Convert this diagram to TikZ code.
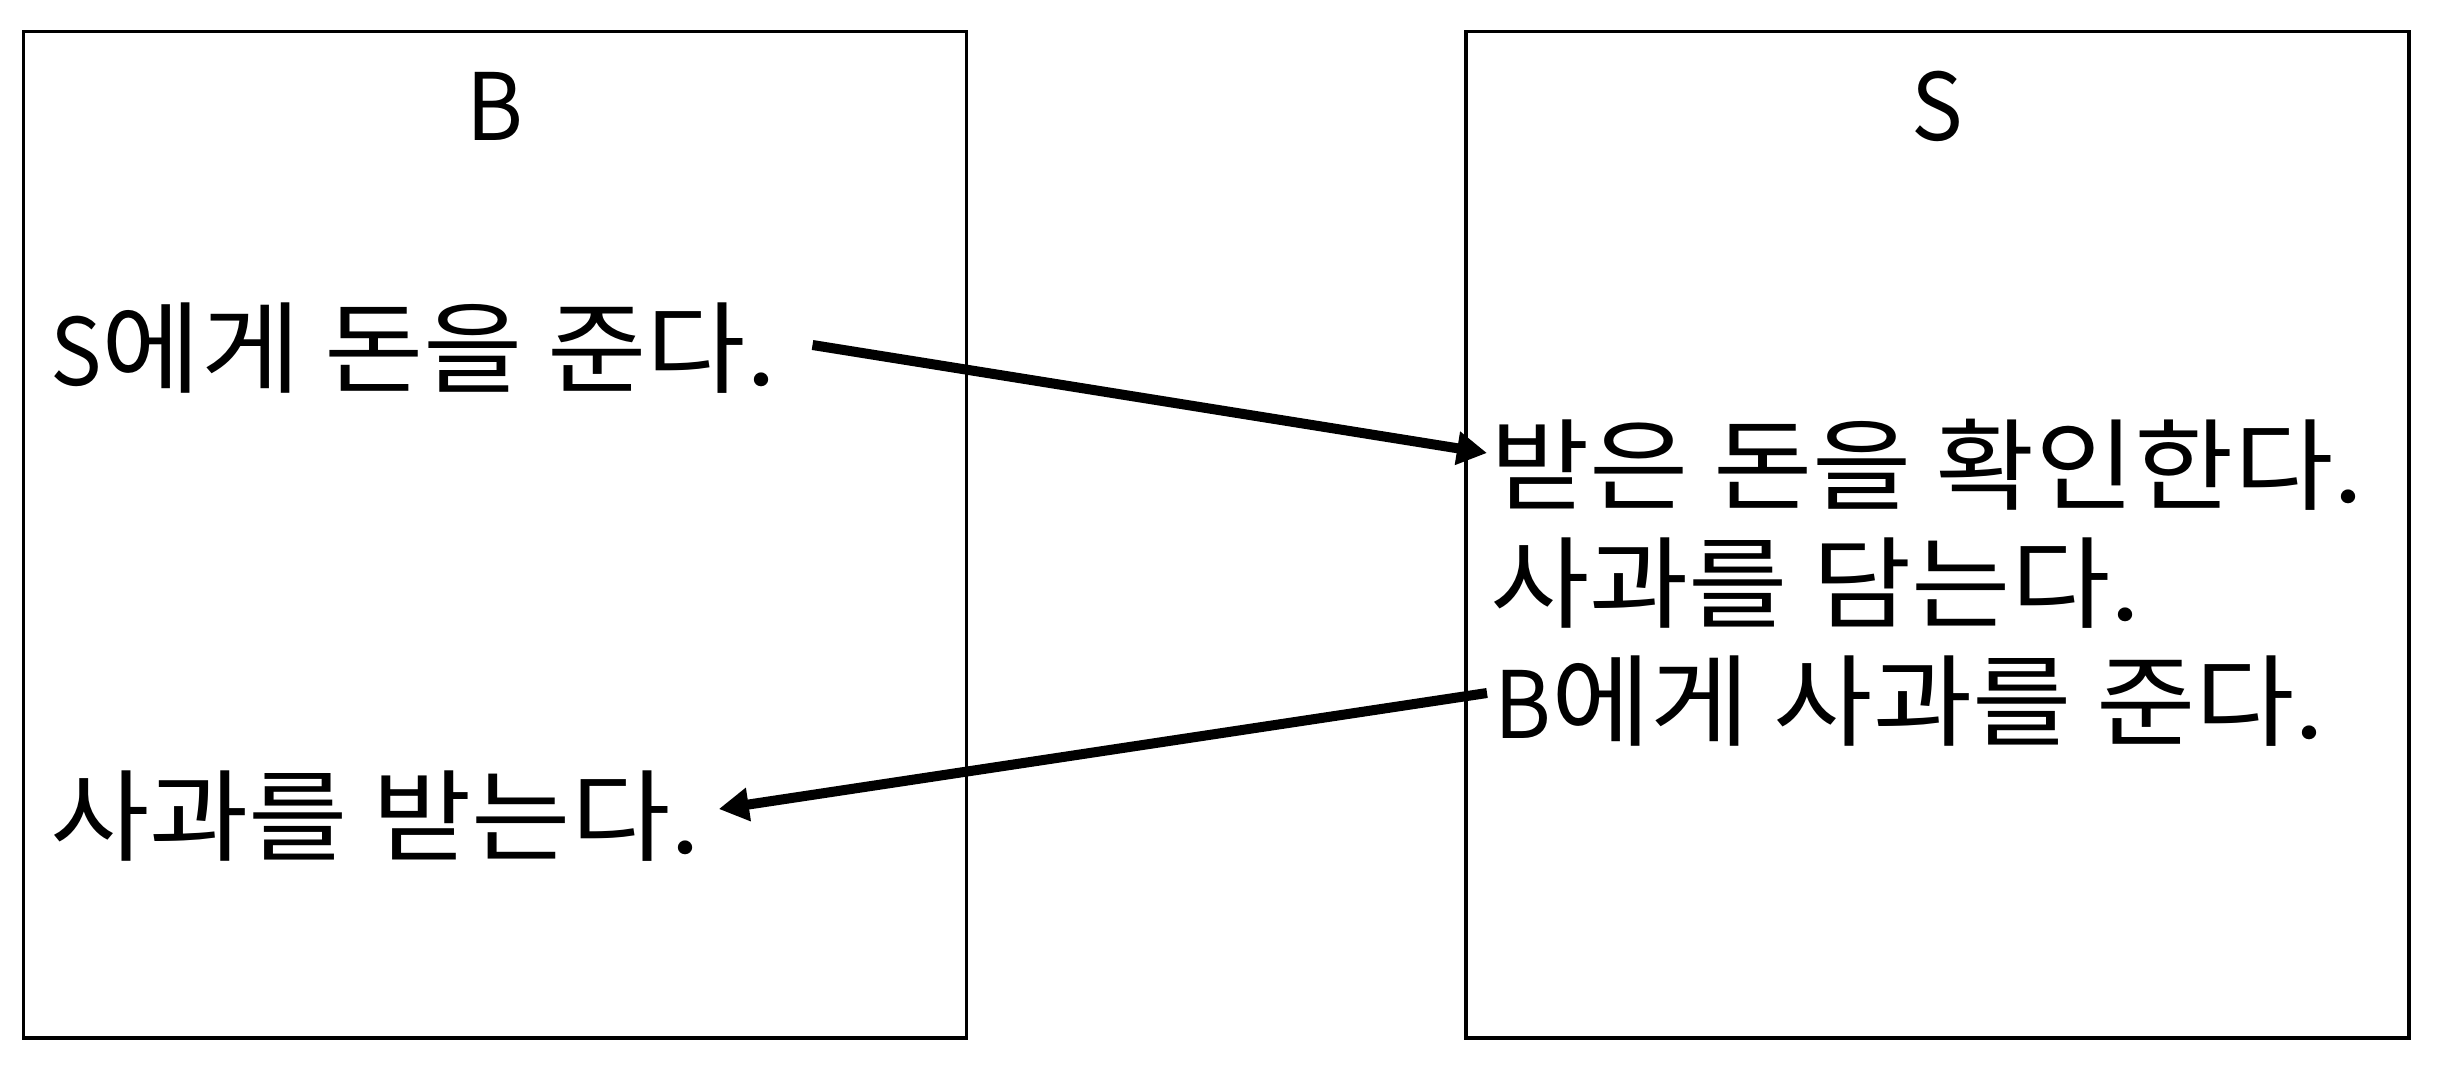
\documentclass[tikz,border=0pt]{standalone}
\usepackage{fontspec}
\usetikzlibrary{arrows.meta,calc}
\newfontfamily\krfont[FakeStretch=1.08]{Noto Sans CJK KR}
\newfontfamily\latfont[FakeStretch=0.93,Scale=0.93]{Noto Sans CJK KR}
\tikzset{
  panel/.style={draw, line width=3.5pt, minimum width=943pt, minimum height=1006.5pt, inner sep=0pt},
  txt/.style={inner sep=0pt, anchor=base west, font=\krfont\fontsize{100}{120}\selectfont},
  ttl/.style={inner sep=0pt, anchor=base, font=\latfont\fontsize{100}{120}\selectfont},
  arr/.style={line width=10pt, -{Triangle[length=30pt,width=32pt]}}
}
\begin{document}
\begin{tikzpicture}[x=1pt,y=-1pt]
\useasboundingbox (0,0) rectangle (2446,1070);
\node[panel] (boxB) at (495.1,534.75) {};
\node[panel] (boxS) at (1937.35,534.75) {};
\node[ttl] (tB) at (495,140) {B};
\node[ttl] (tS) at (1937,140) {S};
\node[txt] (t1) at (50,385) {{\latfont S}에게 돈을 준다.};
\node[txt] (t2) at (50,853) {사과를 받는다.};
\node[txt] (r1) at (1490,502) {받은 돈을 확인한다.};
\node[txt] (r2) at (1490,620) {사과를 담는다.};
\node[txt] (r3) at (1494,738) {{\latfont B}에게 사과를 준다.};
\draw[arr] ($(t1.base east)+(36,-40)$) -- ($(r1.base west)+(-3,-49)$);
\draw[arr] ($(r3.base west)+(-7,-45)$) -- ($(t2.base east)+(18,-44)$);
\end{tikzpicture}
\end{document}
